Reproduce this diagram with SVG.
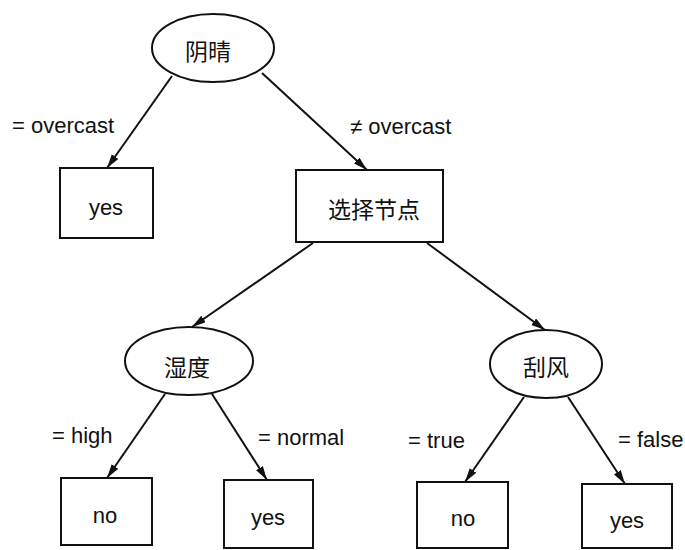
<svg xmlns="http://www.w3.org/2000/svg" width="685" height="550" viewBox="0 0 685 550">
<defs>
<marker id="arr" markerUnits="userSpaceOnUse" markerWidth="15" markerHeight="10" refX="14" refY="4" orient="auto">
<path d="M0,0 L14,4 L0,8 z" fill="#111"/>
</marker>
<style>
.shape{fill:#fff;stroke:#111;stroke-width:2}
.edge{stroke:#111;stroke-width:2;fill:none;marker-end:url(#arr)}
.lbl{font-family:"Liberation Sans","Noto Sans",sans-serif;font-size:22px;fill:#111}
.en{font-family:"Liberation Sans","Noto Sans",sans-serif;font-size:22px;fill:#111;text-anchor:middle;dominant-baseline:central}
.cn{font-family:"Noto Sans CJK SC",sans-serif;font-size:23px;fill:#111;text-anchor:middle;dominant-baseline:central}
</style>
</defs>
<rect width="685" height="550" fill="#fff"/>
<g id="connectors">
<line class="edge" x1="172" y1="76" x2="107" y2="168"/>
<line class="edge" x1="262" y1="73" x2="367" y2="170"/>
<line class="edge" x1="313" y1="243" x2="192" y2="327"/>
<line class="edge" x1="427" y1="243" x2="545" y2="330"/>
<line class="edge" x1="165" y1="394" x2="107" y2="478"/>
<line class="edge" x1="212" y1="394" x2="267" y2="480"/>
<line class="edge" x1="524" y1="397" x2="465" y2="482"/>
<line class="edge" x1="568" y1="397" x2="625" y2="484"/>
</g>
<g id="edge-labels">
<text class="lbl" x="12" y="133">= overcast</text>
<text class="lbl" x="350" y="134">≠ overcast</text>
<text class="lbl" x="52" y="443">= high</text>
<text class="lbl" x="258" y="445">= normal</text>
<text class="lbl" x="408" y="448">= true</text>
<text class="lbl" x="618" y="447">= false</text>
</g>
<g id="n-outlook"><ellipse class="shape" cx="213" cy="48" rx="61" ry="34"/><text class="cn" x="208" y="50">阴晴</text></g>
<g id="n-yes1"><rect class="shape" x="60" y="168" width="93" height="70"/><text class="en" x="106" y="207">yes</text></g>
<g id="n-select"><rect class="shape" x="296" y="170" width="147" height="72"/><text class="cn" x="374" y="208">选择节点</text></g>
<g id="n-humidity"><ellipse class="shape" cx="189" cy="361" rx="64" ry="34"/><text class="cn" x="187" y="366">湿度</text></g>
<g id="n-windy"><ellipse class="shape" cx="546" cy="364" rx="56" ry="34"/><text class="cn" x="546" y="366">刮风</text></g>
<g id="n-no1"><rect class="shape" x="61" y="478" width="91" height="67"/><text class="en" x="105" y="515">no</text></g>
<g id="n-yes2"><rect class="shape" x="224" y="480" width="89" height="68"/><text class="en" x="268" y="517">yes</text></g>
<g id="n-no2"><rect class="shape" x="417" y="482" width="91" height="66"/><text class="en" x="463" y="518">no</text></g>
<g id="n-yes3"><rect class="shape" x="582" y="484" width="90" height="64"/><text class="en" x="627" y="520">yes</text></g>
</svg>
